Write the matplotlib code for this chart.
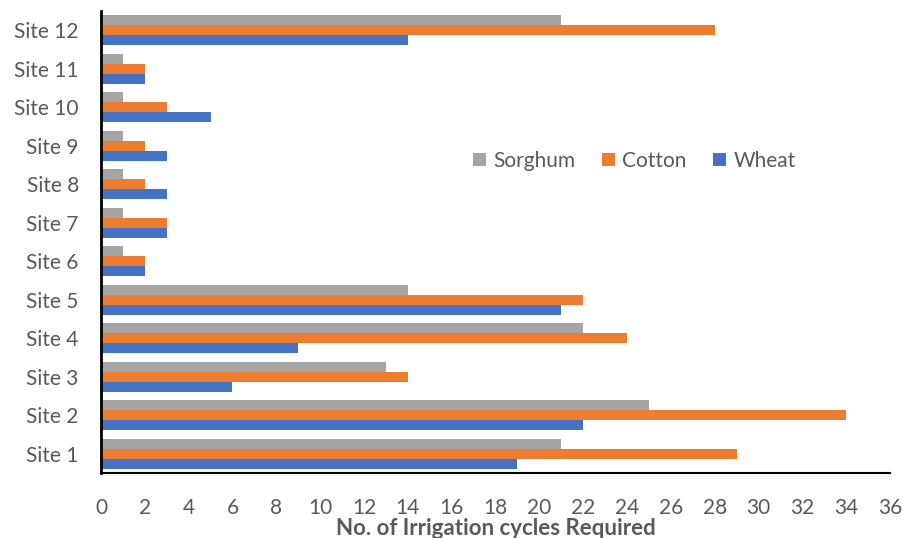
import numpy as np
import matplotlib.pyplot as plt

sites = ['Site 1', 'Site 2', 'Site 3', 'Site 4', 'Site 5', 'Site 6',
         'Site 7', 'Site 8', 'Site 9', 'Site 10', 'Site 11', 'Site 12']
wheat = [19, 22, 6, 9, 21, 2, 3, 3, 3, 5, 2, 14]
cotton = [29, 34, 14, 24, 22, 2, 3, 2, 2, 3, 2, 28]
sorghum = [21, 25, 13, 22, 14, 1, 1, 1, 1, 1, 1, 21]

plt.rcParams['font.family'] = ['Lato', 'DejaVu Sans']

fig = plt.figure(figsize=(9.04, 5.38), dpi=100)
ax = fig.add_axes([0.1117, 0.1208, 0.8728, 0.8588])

y = np.arange(len(sites))
h = 0.26
ax.barh(y - h, wheat, height=h, color='#4472C4', label='Wheat')
ax.barh(y, cotton, height=h, color='#ED7D31', label='Cotton')
ax.barh(y + h, sorghum, height=h, color='#A5A5A5', label='Sorghum')

ax.set_ylim(-0.5, 11.5)
ax.set_xlim(0, 36)
ax.set_xticks(np.arange(0, 37, 2))
ax.set_yticks(y)
ax.set_yticklabels(sites)
ax.tick_params(axis='both', length=0, labelsize=15, colors='#595959')
ax.tick_params(axis='y', pad=16)
ax.tick_params(axis='x', pad=18)

for s in ['top', 'right']:
    ax.spines[s].set_visible(False)
ax.spines['left'].set_linewidth(2)
ax.spines['bottom'].set_linewidth(1.5)

ax.set_xlabel('No. of Irrigation cycles Required', fontsize=16,
              fontweight='bold', color='#595959', labelpad=0)

handles, labels = ax.get_legend_handles_labels()
ax.legend(handles[::-1], labels[::-1], loc='center', bbox_to_anchor=(0.676, 0.675),
          ncol=3, frameon=False, fontsize=15, handlelength=0.6, handleheight=0.6,
          columnspacing=1.3, handletextpad=0.35, labelcolor='#595959')

fig.savefig('out.png', dpi=100)
